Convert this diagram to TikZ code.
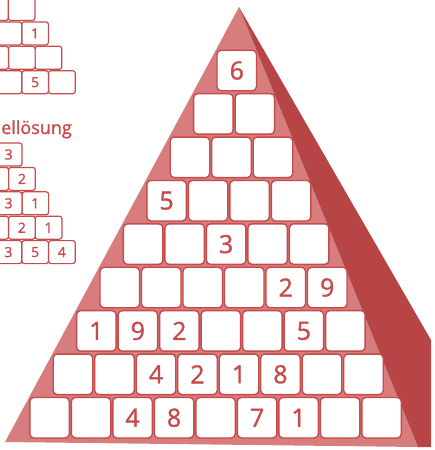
\documentclass[tikz,border=0pt]{standalone}
\usepackage{fontspec}
\setmainfont{Open Sans}
\newfontfamily\pyrfont{Open Sans}[FakeBold=1.3]
\usepackage{tikz}
\usetikzlibrary{positioning}
\definecolor{pyrRed}{HTML}{C74B4B}

\begin{document}
\begin{tikzpicture}[
  x=1pt, y=-1pt,
  bigbox/.style={draw=pyrRed, fill=white, line width=1.4pt, rounded corners=4pt,
    minimum width=39.5pt, minimum height=40.5pt, inner sep=0pt, outer sep=0pt},
  smallbox/.style={draw=pyrRed, fill=white, line width=1.2pt, rounded corners=2.5pt,
    minimum width=26.7pt, minimum height=23pt, inner sep=0pt, outer sep=0pt},
  bigdigit/.style={text=pyrRed, inner sep=0pt, font=\pyrfont\fontsize{25}{25}\selectfont},
  smalldigit/.style={text=pyrRed, inner sep=0pt, font=\pyrfont\fontsize{14}{14}\selectfont},
  caption/.style={text=pyrRed, inner sep=0pt, anchor=base east, font=\pyrfont\fontsize{18}{18}\selectfont}
]
\useasboundingbox (0,0) rectangle (435,450);
\clip (0,0) rectangle (435,450);

% pyramid body
\fill[pyrRed!72] (239,7) -- (5,442) -- (418,447) -- cycle;
\fill[pyrRed!92!black] (239,7) -- (431,340) -- (431,447) -- (418,447) -- cycle;

% big pyramid bricks
\foreach \r in {1,...,9}{
  \foreach \c in {1,...,\r}{
    \node[bigbox] (pyr-\r-\c) at ({236.75-23.4*(\r-1)+41.5*(\c-1)}, {70.5+43.4*(\r-1)}) {};
  }
}
\foreach \r/\c/\d in {1/1/6, 4/1/5, 5/3/3, 6/5/2, 6/6/9, 7/1/1, 7/2/9, 7/3/2, 7/6/5,
                      8/3/4, 8/4/2, 8/5/1, 8/6/8, 9/3/4, 9/4/8, 9/6/7, 9/7/1}
  \node[bigdigit] (pyrnum-\r-\c) at (pyr-\r-\c) {\d};

% small pyramid, cut off at the top
\foreach \k in {0,...,3}{
  \foreach \i in {1,2,3}{
    \node[smallbox] (top-\k-\i) at ({48.35+13.4*\k-26.7*\i}, {9+24.4*\k}) {};
  }
}
\foreach \k/\i/\d in {1/1/1, 3/2/5}
  \node[smalldigit] (topnum-\k-\i) at (top-\k-\i) {\d};

% example solution
\node[caption] (cap) at (72,134) {ellösung};
\foreach \k in {0,...,4}{
  \foreach \i in {1,2,3}{
    \node[smallbox] (sol-\k-\i) at ({35.35+13.3*\k-26.7*\i}, {154.5+24.4*\k}) {};
  }
}
\foreach \k/\i/\d in {0/1/3, 1/1/2, 2/1/1, 2/2/3, 3/1/1, 3/2/2, 4/1/4, 4/2/5, 4/3/3}
  \node[smalldigit] (solnum-\k-\i) at (sol-\k-\i) {\d};
\end{tikzpicture}
\end{document}
